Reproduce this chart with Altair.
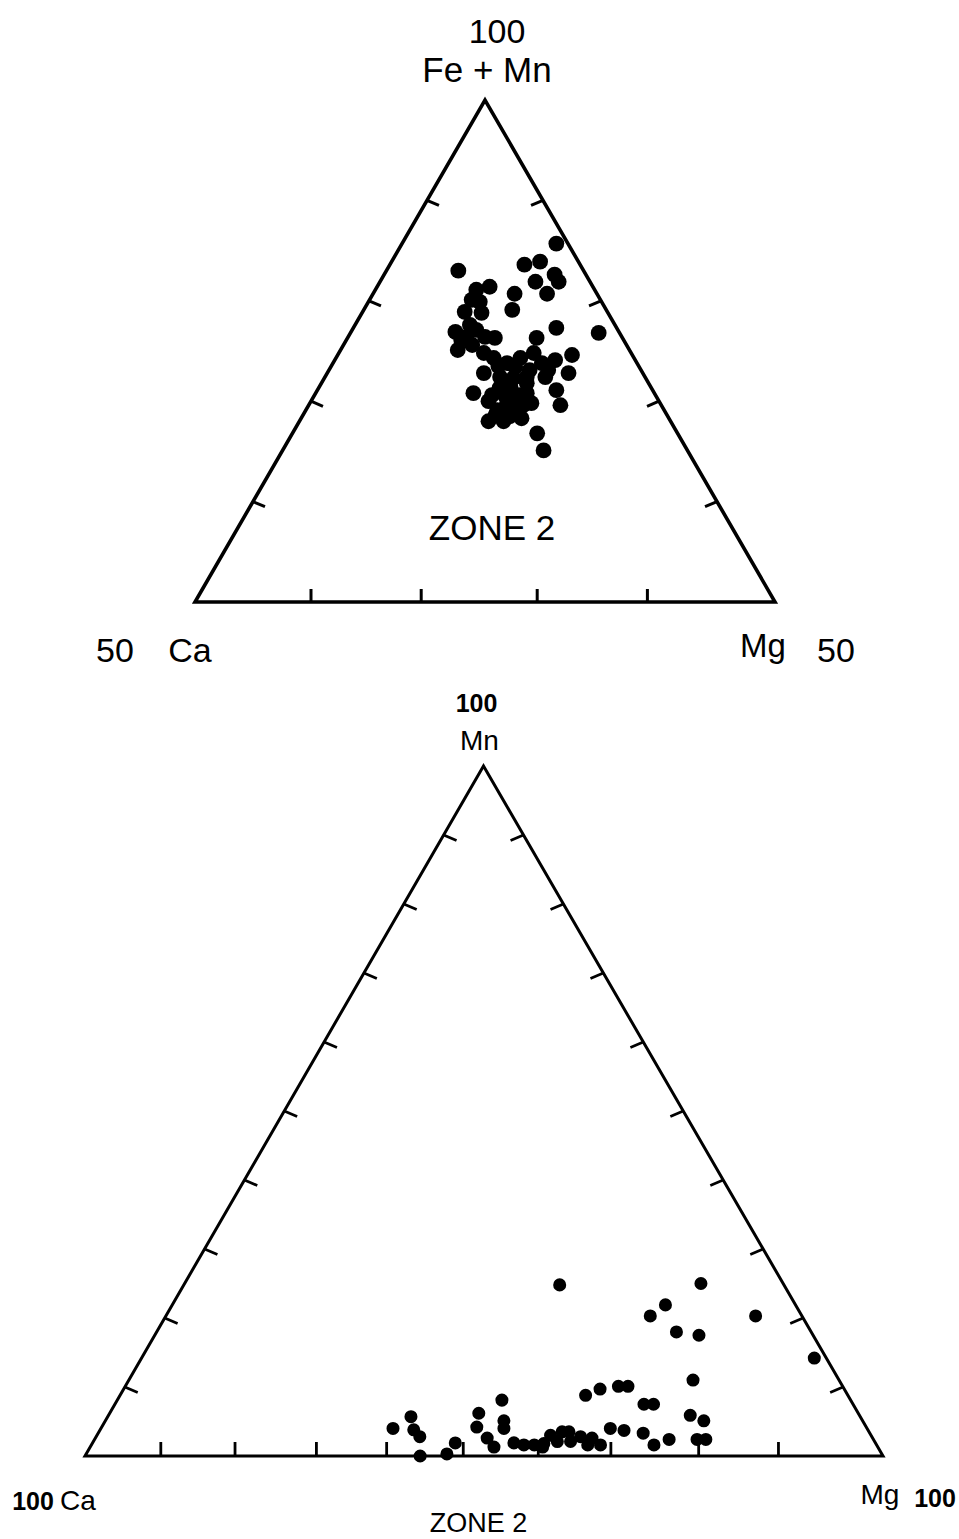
import altair as alt
import pandas as pd

W, H = 959, 1539

# ---------------------------------------------------------------
# Upper diagram: Ca - Mg - (Fe+Mn), Fe+Mn >= 50 % sector (percent)
# ---------------------------------------------------------------
top_ca = [1.0, 10.8, 4.8, 3.3, 4.7, 2.7, 2.7, 4.3, 10.2, 8.9, 7.1, 8.1, 10.5,
          12.3, 10.9, 14.1, 13.4, 14.8, 13.3, 11.0, 11.8, 5.2, 1.8, 7.4, 12.7,
          12.1, 5.2, 6.9, 6.4, 9.8, 8.4, 8.2, 10.7, 9.6, 8.6, 13.7, 12.5, 15.6,
          8.3, 8.7, 14.7, 13.1, 12.1, 12.1, 11.0, 11.1, 13.2, 12.6, 15.7, 14.4,
          12.7, 12.1, 12.4, 13.6, 14.4, 10.2, 8.0, 11.2, 12.2, 14.0, 14.1, 11.4,
          11.9, 12.1, 12.5, 11.1, 13.0, 11.7, 13.1, 10.5, 14.8]
top_mg = [13.3, 6.2, 11.6, 12.8, 13.4, 14.7, 15.4, 15.0, 8.7, 9.7, 12.2, 12.8,
          9.6, 8.8, 10.3, 9.0, 10.2, 10.1, 11.1, 12.7, 11.8, 17.5, 21.4, 16.3,
          12.5, 13.6, 20.2, 19.0, 20.8, 15.9, 16.8, 18.0, 15.9, 17.3, 19.0, 13.5,
          15.1, 13.6, 20.6, 21.7, 15.3, 15.6, 16.5, 17.5, 18.2, 19.1, 17.0, 18.3,
          16.3, 17.6, 19.0, 21.1, 22.5, 17.9, 16.5, 17.4, 18.9, 15.0, 10.7, 9.9,
          15.3, 16.3, 18.5, 14.4, 9.9, 8.8, 16.4, 17.7, 17.8, 17.7, 16.6]
top_femn = [85.7, 83.0, 83.6, 83.9, 81.9, 82.6, 81.9, 80.7, 81.1, 81.4, 80.7,
            79.1, 79.9, 78.9, 78.8, 76.9, 76.4, 75.1, 75.6, 76.3, 76.4, 77.3,
            76.8, 76.3, 74.8, 74.3, 74.6, 74.1, 72.8, 74.3, 74.8, 73.8, 73.4,
            73.1, 72.4, 72.8, 72.4, 70.8, 71.1, 69.6, 70.0, 71.3, 71.4, 70.4,
            70.8, 69.8, 69.8, 69.1, 68.0, 68.0, 68.3, 66.8, 65.1, 68.5, 69.1,
            72.4, 73.1, 73.8, 77.1, 76.1, 70.6, 72.3, 69.6, 73.5, 77.6, 80.1,
            70.6, 70.6, 69.1, 71.8, 68.6]

# ---------------------------------------------------------------
# Lower diagram: Ca - Mg - Mn (percent)
# ---------------------------------------------------------------
bot_ca = [28.1, 10.3, 16.3, 19.0, 16.9, 14.3, 5.8, 1.5, 18.3, 32.9, 30.6, 28.1,
          26.9, 26.2, 25.0, 21.2, 19.9, 22.1, 21.0, 25.6, 28.4, 27.9, 32.2, 30.6,
          43.7, 45.0, 45.5, 47.6, 48.8, 48.3, 48.1, 59.4, 56.3, 56.9, 56.7, 58.0,
          54.5, 52.7, 45.3, 44.2, 42.9, 41.6, 40.2, 39.8, 38.5, 37.6, 38.1, 36.5,
          36.2, 35.2, 34.6, 42.0]
bot_mg = [47.1, 64.7, 61.8, 60.7, 65.2, 68.2, 73.9, 84.3, 70.7, 58.4, 59.7, 61.8,
          63.0, 66.3, 67.5, 72.9, 75.0, 75.5, 76.6, 72.0, 68.3, 70.5, 63.9, 65.7,
          48.2, 50.0, 50.5, 46.3, 47.0, 49.1, 50.6, 36.6, 38.0, 39.3, 40.6, 42.0,
          45.2, 45.5, 52.8, 54.2, 55.5, 56.6, 56.9, 58.2, 58.1, 58.9, 59.8, 60.7,
          62.2, 62.3, 63.8, 56.7]
bot_mn = [24.8, 25.0, 21.9, 20.3, 18.0, 17.5, 20.3, 14.2, 11.0, 8.8, 9.7, 10.1,
          10.1, 7.5, 7.5, 5.9, 5.1, 2.4, 2.4, 2.4, 3.3, 1.6, 4.0, 3.7,
          8.1, 5.1, 4.0, 6.2, 4.2, 2.6, 1.3, 4.0, 5.7, 3.8, 2.8, 0.0,
          0.3, 1.9, 1.9, 1.6, 1.6, 1.8, 3.0, 2.1, 3.5, 3.5, 2.1, 2.8,
          1.6, 2.6, 1.6, 1.3]

# tick marks: percent of the apex component on the sides, percent Mg on the base
top_ticks = [60, 70, 80, 90]
top_base_ticks = [10.0, 19.5, 29.5, 39.0]
bot_ticks = [10, 20, 30, 40, 50, 60, 70, 80, 90]
bot_base_ticks = [9.5, 18.8, 29.0, 37.8, 47.4, 56.8, 65.9, 76.9, 86.9]

# ---------------------------------------------------------------
# page geometry of the two triangles
# ---------------------------------------------------------------
TOP = {"left": (195.0, 602.0), "right": (775.0, 602.0), "apex": (485.0, 100.0), "lo": 50.0}
BOT = {"left": (85.0, 1456.0), "right": (883.0, 1456.0), "apex": (483.5, 766.0), "lo": 0.0}


def project(ca, mg, apex, frame):
    s = ca + mg + apex
    span = 100.0 - frame["lo"]
    wa = (apex / s * 100.0 - frame["lo"]) / span
    wc = (ca / s * 100.0) / span
    wm = (mg / s * 100.0) / span
    (lx, ly), (rx, ry), (ax, ay) = frame["left"], frame["right"], frame["apex"]
    return wc * lx + wm * rx + wa * ax, wc * ly + wm * ry + wa * ay


def points(cas, mgs, aps, frame, name):
    rows = []
    for c, m, a in zip(cas, mgs, aps):
        x, y = project(c, m, a, frame)
        rows.append({"x": x, "y": y, "plot": name})
    return pd.DataFrame(rows)


def outline(frame, name):
    lo = frame["lo"]
    rest = 100.0 - lo
    corners = [(rest, 0.0, lo), (0.0, rest, lo), (0.0, 0.0, 100.0), (rest, 0.0, lo), (0.0, rest, lo)]
    rows = []
    for i, (c, m, a) in enumerate(corners):
        x, y = project(c, m, a, frame)
        rows.append({"x": x, "y": y, "i": i, "plot": name})
    return rows


TICK_LEN = {"top": 13.0, "bot": 14.0}
DIR_LEFT = (0.92, 0.39)
DIR_RIGHT = (-0.92, 0.39)
DIR_BASE = (0.0, -1.0)


def ticks(frame, side_vals, base_vals, name):
    lo = frame["lo"]
    L = TICK_LEN[name]
    rows = []
    for v in side_vals:
        # left edge (Mg = 0) and right edge (Ca = 0)
        x, y = project(100.0 - v, 0.0, v, frame)
        rows.append({"x": x, "y": y, "x2": x + DIR_LEFT[0] * L, "y2": y + DIR_LEFT[1] * L})
        x, y = project(0.0, 100.0 - v, v, frame)
        rows.append({"x": x, "y": y, "x2": x + DIR_RIGHT[0] * L, "y2": y + DIR_RIGHT[1] * L})
    for v in base_vals:
        x, y = project(100.0 - lo - v, v, lo, frame)
        rows.append({"x": x, "y": y, "x2": x + DIR_BASE[0] * L, "y2": y + DIR_BASE[1] * L})
    return rows


top_pts = points(top_ca, top_mg, top_femn, TOP, "top")
bot_pts = points(bot_ca, bot_mg, bot_mn, BOT, "bot")
frames = pd.DataFrame(outline(TOP, "top") + outline(BOT, "bot"))
top_tk = pd.DataFrame(ticks(TOP, top_ticks, top_base_ticks, "top"))
bot_tk = pd.DataFrame(ticks(BOT, bot_ticks, bot_base_ticks, "bot"))

XS = alt.Scale(domain=[0, W], range=[0, W], nice=False, zero=False)
YS = alt.Scale(domain=[0, H], range=[0, H], nice=False, zero=False)


def xenc(f="x"):
    return alt.X(f + ":Q", scale=XS, axis=None)


def yenc(f="y"):
    return alt.Y(f + ":Q", scale=YS, axis=None)


edges = alt.Chart(frames).mark_line(
    color="black", strokeJoin="miter", strokeMiterLimit=20
).encode(
    x=xenc(), y=yenc(), detail="plot:N", order="i:Q",
    strokeWidth=alt.StrokeWidth("plot:N", scale=alt.Scale(domain=["top", "bot"], range=[3.6, 3.0]), legend=None),
)

tick_top = alt.Chart(top_tk).mark_rule(color="black", strokeWidth=3).encode(
    x=xenc(), y=yenc(), x2="x2:Q", y2="y2:Q"
)
tick_bot = alt.Chart(bot_tk).mark_rule(color="black", strokeWidth=2.8).encode(
    x=xenc(), y=yenc(), x2="x2:Q", y2="y2:Q"
)

dots_top = alt.Chart(top_pts).mark_circle(color="black", opacity=1, size=250).encode(x=xenc(), y=yenc())
dots_bot = alt.Chart(bot_pts).mark_circle(color="black", opacity=1, size=170).encode(x=xenc(), y=yenc())

# corner labels, placed relative to the triangle vertices
tax, tay = TOP["apex"]
tlx, tly = TOP["left"]
trx, try_ = TOP["right"]
bax, bay = BOT["apex"]
blx, bly = BOT["left"]
brx, bry = BOT["right"]

plain = pd.DataFrame([
    {"t": "100", "x": tax + 12, "y": tay - 57, "fs": 34},
    {"t": "Fe + Mn", "x": tax + 2, "y": tay - 18, "fs": 35},
    {"t": "50", "x": tlx - 80, "y": tly + 60, "fs": 34},
    {"t": "Ca", "x": tlx - 5, "y": tly + 60, "fs": 34},
    {"t": "Mg", "x": trx - 12, "y": try_ + 55, "fs": 33},
    {"t": "50", "x": trx + 61, "y": try_ + 60, "fs": 34},
    {"t": "ZONE 2", "x": tax + 7, "y": tly - 62, "fs": 35},
    {"t": "Mn", "x": bax - 4, "y": bay - 16, "fs": 28},
    {"t": "Ca", "x": blx - 7, "y": bly + 54, "fs": 28},
    {"t": "Mg", "x": brx - 3, "y": bry + 48, "fs": 28},
    {"t": "ZONE 2", "x": bax - 5, "y": bly + 76, "fs": 27},
])
bold = pd.DataFrame([
    {"t": "100", "x": bax - 7, "y": bay - 54, "fs": 25},
    {"t": "100", "x": blx - 52, "y": bly + 54, "fs": 25},
    {"t": "100", "x": brx + 52, "y": bry + 51, "fs": 25},
])

text_plain = alt.Chart(plain).mark_text(
    font="Liberation Sans", color="black", align="center", baseline="alphabetic"
).encode(x=xenc(), y=yenc(), text="t:N", size=alt.Size("fs:Q", scale=None))
text_bold = alt.Chart(bold).mark_text(
    font="Liberation Sans", fontWeight="bold", color="black", align="center", baseline="alphabetic"
).encode(x=xenc(), y=yenc(), text="t:N", size=alt.Size("fs:Q", scale=None))

chart = alt.layer(
    edges, tick_top, tick_bot, dots_top, dots_bot, text_plain, text_bold
).properties(
    width=W, height=H, autosize=alt.AutoSizeParams(type="none"), padding=0, background="white"
).configure_view(stroke=None)

chart.save("out.html", embed_options={"renderer": "svg", "actions": False})
